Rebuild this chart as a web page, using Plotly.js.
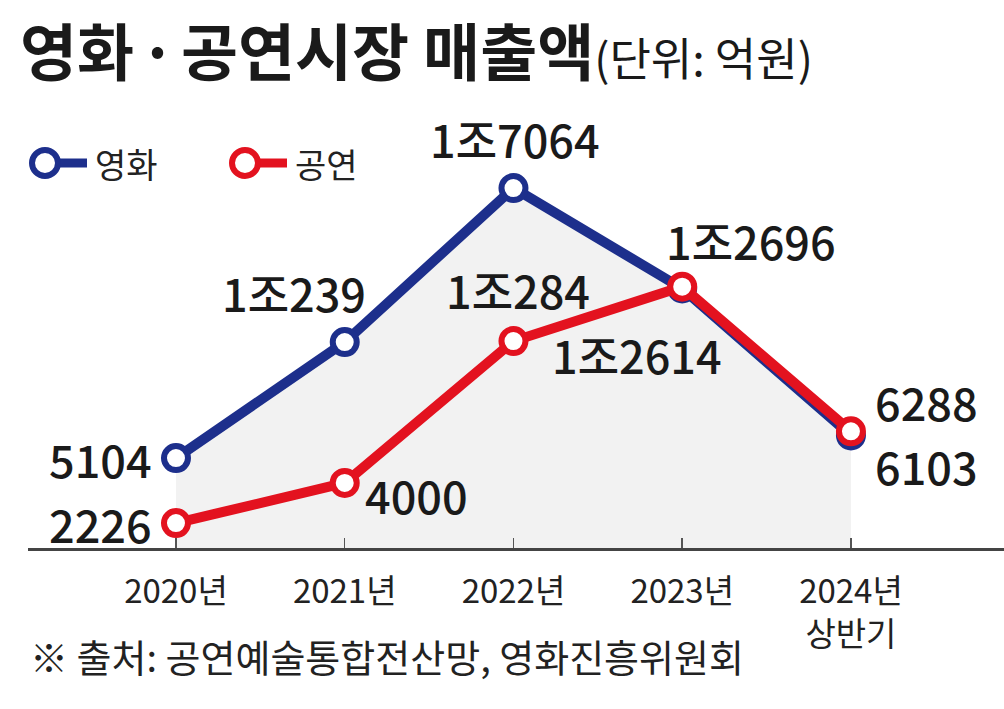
<!DOCTYPE html>
<html>
<head>
<meta charset="utf-8">
<script src="https://cdn.plot.ly/plotly-3.0.1.min.js"></script>
<style>html,body{margin:0;padding:0;background:#fff;}#chart{width:1004px;height:709px;}</style>
</head>
<body>
<div id="chart"></div>
<script>
// ---- data ----
const categories = ["2020년", "2021년", "2022년", "2023년", "2024년<br>상반기"];
const movieName = "영화";
const movieValues = [5104, 10239, 17064, 12614, 6103];
const showName = "공연";
const showValues = [2226, 4000, 10284, 12696, 6288];
const titleParts = ["영화", "·", "공연시장 매출액"];
const unitText = "(단위: 억원)";
const sourceText = "※ 출처: 공연예술통합전산망, 영화진흥위원회";

// ---- style ----
const BLUE = "#1d2f8c";
const RED = "#e3121f";
const FONT = "Noto Sans CJK KR, Noto Sans, sans-serif";
// label placement per point: [xanchor, xshift, yshift]
const movieLabelPos = [["right", -22, 0], ["center", -51, 50], ["center", 2, 50], ["center", -45, -66], ["left", 22, -30]];
const showLabelPos = [["right", -22, 0], ["left", 18, -12], ["center", 5, 52], ["center", 69, 46], ["left", 22, 30]];

function fmt(v) {
  const jo = Math.floor(v / 10000);
  const rest = v % 10000;
  return jo > 0 ? jo + "조" + rest : String(v);
}

const traces = [
  {
    x: categories, y: movieValues, name: movieName, type: "scatter", mode: "lines+markers",
    line: {color: BLUE, width: 10}, fill: "tozeroy", fillcolor: "#f2f2f2",
    marker: {symbol: "circle", size: 24, color: "#ffffff", line: {color: BLUE, width: 6}},
    cliponaxis: false, hoverinfo: "skip"
  },
  {
    x: categories, y: showValues, name: showName, type: "scatter", mode: "lines+markers",
    line: {color: RED, width: 10},
    marker: {symbol: "circle", size: 24, color: "#ffffff", line: {color: RED, width: 6}},
    cliponaxis: false, hoverinfo: "skip"
  }
];

const annotations = [];
function addLabels(vals, pos) {
  vals.forEach((v, i) => {
    annotations.push({
      x: categories[i], y: v, xref: "x", yref: "y", text: fmt(v), showarrow: false,
      xanchor: pos[i][0], yanchor: "middle", xshift: pos[i][1], yshift: pos[i][2],
      font: {family: FONT, size: 45, color: "#1a1a1a", weight: 500}
    });
  });
}
addLabels(movieValues, movieLabelPos);
addLabels(showValues, showLabelPos);

const W = 1004, H = 709, ML = 28, MR = 0, MT = 110, MB = 161;
const pw = W - ML - MR, ph = H - MT - MB;
function px(xp) { return (xp - ML) / pw; }
function py(yp) { return (H - MB - yp) / ph; }

// source note
annotations.push({
  xref: "paper", yref: "paper", x: px(28), y: py(655), xanchor: "left", yanchor: "middle",
  text: sourceText, showarrow: false, font: {family: FONT, size: 38, color: "#222"}
});

// custom legend
const shapes = [];
const legendItems = [[movieName, BLUE, 45], [showName, RED, 245]];
legendItems.forEach(([name, col, cx]) => {
  shapes.push({type: "line", xref: "paper", yref: "paper", x0: px(cx + 10), x1: px(cx + 42), y0: py(163), y1: py(163),
    line: {color: col, width: 9}});
  shapes.push({type: "circle", xref: "paper", yref: "paper", xsizemode: "pixel", ysizemode: "pixel",
    xanchor: px(cx), yanchor: py(163), x0: -13, x1: 13, y0: -13, y1: 13,
    fillcolor: "#fff", line: {color: col, width: 6}});
  annotations.push({xref: "paper", yref: "paper", x: px(cx + 48), y: py(163), xanchor: "left", yanchor: "middle",
    text: name, showarrow: false, font: {family: FONT, size: 34, color: "#222"}});
});

const sp = "<span style='font-size:22px'> </span>";
const layout = {
  width: W, height: H,
  margin: {l: ML, r: MR, t: MT, b: MB},
  paper_bgcolor: "#ffffff", plot_bgcolor: "#ffffff",
  showlegend: false,
  title: {
    text: "<b>" + titleParts[0] + sp + titleParts[1] + sp + titleParts[2] +
      "</b><span style='font-size:45px;font-weight:normal'>" + unitText + "</span>",
    x: 0.02, xanchor: "left", xref: "container", y: 1 - 54 / H, yanchor: "middle", yref: "container",
    font: {family: FONT, size: 62, color: "#1a1a1a"}
  },
  xaxis: {
    type: "category", range: [-0.877, 4.907], showgrid: false, zeroline: false,
    showline: true, linecolor: "#444", linewidth: 3,
    ticks: "inside", ticklen: 10, tickcolor: "#555", tickwidth: 1.5,
    ticklabelstandoff: 12,
    tickfont: {family: FONT, size: 33, color: "#222"}
  },
  yaxis: {
    range: [1120, 20520], showgrid: false, zeroline: false, showline: false,
    showticklabels: false, ticks: ""
  },
  annotations: annotations,
  shapes: shapes
};

Plotly.newPlot("chart", traces, layout, {displayModeBar: false, staticPlot: true});
</script>
</body>
</html>
